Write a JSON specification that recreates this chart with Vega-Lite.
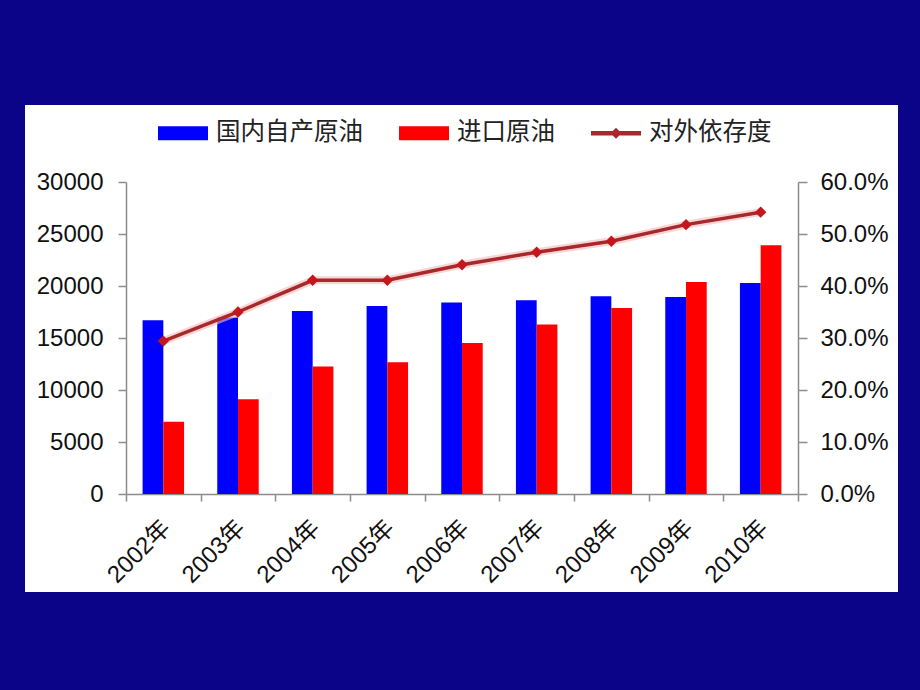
{
  "$schema": "https://vega.github.io/schema/vega-lite/v6.json",
  "width": 873,
  "height": 487,
  "autosize": "none",
  "padding": {"left": 25, "top": 105, "right": 22, "bottom": 98},
  "background": "#0C0488",
  "view": {"fill": "white", "stroke": null},
  "config": {
    "font": "Liberation Sans, Noto Sans CJK SC",
    "axis": {
      "domainColor": "#8c8c8c",
      "tickColor": "#8c8c8c",
      "domainWidth": 1.5,
      "tickWidth": 1.5,
      "grid": false,
      "labelColor": "#111111",
      "labelFont": "Liberation Sans, Noto Sans CJK SC",
      "labelFontSize": 24,
      "title": null
    }
  },
  "datasets": {
    "bars": [
      {"year": "2002年", "series": "国内自产原油", "value": 16700},
      {"year": "2002年", "series": "进口原油", "value": 6940},
      {"year": "2003年", "series": "国内自产原油", "value": 16960},
      {"year": "2003年", "series": "进口原油", "value": 9110},
      {"year": "2004年", "series": "国内自产原油", "value": 17590},
      {"year": "2004年", "series": "进口原油", "value": 12270},
      {"year": "2005年", "series": "国内自产原油", "value": 18080},
      {"year": "2005年", "series": "进口原油", "value": 12680},
      {"year": "2006年", "series": "国内自产原油", "value": 18420},
      {"year": "2006年", "series": "进口原油", "value": 14520},
      {"year": "2007年", "series": "国内自产原油", "value": 18630},
      {"year": "2007年", "series": "进口原油", "value": 16300},
      {"year": "2008年", "series": "国内自产原油", "value": 19020},
      {"year": "2008年", "series": "进口原油", "value": 17890},
      {"year": "2009年", "series": "国内自产原油", "value": 18950},
      {"year": "2009年", "series": "进口原油", "value": 20380},
      {"year": "2010年", "series": "国内自产原油", "value": 20300},
      {"year": "2010年", "series": "进口原油", "value": 23920}
    ],
    "ratio": [
      {"year": "2002年", "rate": 0.294},
      {"year": "2003年", "rate": 0.350},
      {"year": "2004年", "rate": 0.411},
      {"year": "2005年", "rate": 0.411},
      {"year": "2006年", "rate": 0.441},
      {"year": "2007年", "rate": 0.465},
      {"year": "2008年", "rate": 0.486},
      {"year": "2009年", "rate": 0.518},
      {"year": "2010年", "rate": 0.542}
    ]
  },
  "encoding": {
    "x": {
      "field": "year",
      "type": "nominal",
      "sort": null,
      "scale": {"range": [101, 773], "paddingInner": 0, "paddingOuter": 0},
      "axis": {
        "orient": "bottom",
        "offset": -98,
        "tickBand": "extent",
        "tickSize": 7,
        "labelAngle": -45,
        "labelAlign": "right",
        "labelBaseline": "middle",
        "labelPadding": 23,
        "labelOffset": 3,
        "labelFontSize": 24
      }
    }
  },
  "layer": [
    {
      "data": {"name": "bars"},
      "mark": {"type": "bar"},
      "encoding": {
        "xOffset": {
          "field": "series",
          "type": "nominal",
          "sort": ["国内自产原油", "进口原油"],
          "scale": {"paddingInner": 0, "paddingOuter": 0.8}
        },
        "y": {
          "field": "value",
          "type": "quantitative",
          "scale": {"domain": [0, 30000], "range": [389, 77], "nice": false},
          "axis": {
            "orient": "left",
            "offset": -101,
            "values": [0, 5000, 10000, 15000, 20000, 25000, 30000],
            "format": "d",
            "tickSize": 8,
            "labelPadding": 15
          }
        },
        "color": {
          "field": "series",
          "type": "nominal",
          "scale": {
            "domain": ["国内自产原油", "进口原油", "对外依存度"],
            "range": ["#0000FF", "#FF0000", "#A8282B"]
          },
          "legend": {
            "orient": "none",
            "legendX": 133,
            "legendY": 3,
            "direction": "horizontal",
            "title": null,
            "padding": 0,
            "symbolSize": 2500,
            "symbolStrokeWidth": 0,
            "labelFont": "Noto Sans CJK SC",
            "labelFontSize": 24.5,
            "labelColor": "#222222",
            "labelOffset": 8,
            "columnPadding": 36,
            "encode": {
              "symbols": {
                "update": {
                  "shape": {"signal": "datum.value === '对外依存度' ? 'M-1,-0.09H1V0.09H-1Z M0,-0.22L0.22,0L0,0.22L-0.22,0Z' : 'M-1,-0.28H1V0.28H-1Z'"},
                  "fill": {"signal": "scale('color', datum.value)"},
                  "fillOpacity": {"value": 1},
                  "strokeWidth": {"value": 0}
                }
              }
            }
          }
        }
      }
    },
    {
      "data": {"name": "ratio"},
      "mark": {"type": "line", "color": "#F7B9B9", "strokeWidth": 8, "opacity": 0.6},
      "encoding": {
        "y": {"field": "rate", "type": "quantitative", "scale": {"domain": [0, 0.6], "range": [389, 77], "nice": false}, "axis": null}
      }
    },
    {
      "data": {"name": "ratio"},
      "mark": {"type": "line", "strokeWidth": 3.5},
      "encoding": {
        "y": {
          "field": "rate",
          "type": "quantitative",
          "scale": {"domain": [0, 0.6], "range": [389, 77], "nice": false},
          "axis": {
            "orient": "right",
            "offset": -100,
            "values": [0, 0.1, 0.2, 0.3, 0.4, 0.5, 0.6],
            "format": ".1%",
            "tickSize": 9,
            "labelPadding": 13
          }
        },
        "color": {"datum": "对外依存度"}
      }
    },
    {
      "data": {"name": "ratio"},
      "mark": {"type": "point", "shape": "diamond", "size": 130, "filled": true, "fill": "#C4161C", "opacity": 1},
      "encoding": {
        "y": {"field": "rate", "type": "quantitative", "scale": {"domain": [0, 0.6], "range": [389, 77], "nice": false}, "axis": null}
      }
    }
  ],
  "resolve": {"scale": {"y": "independent"}}
}
